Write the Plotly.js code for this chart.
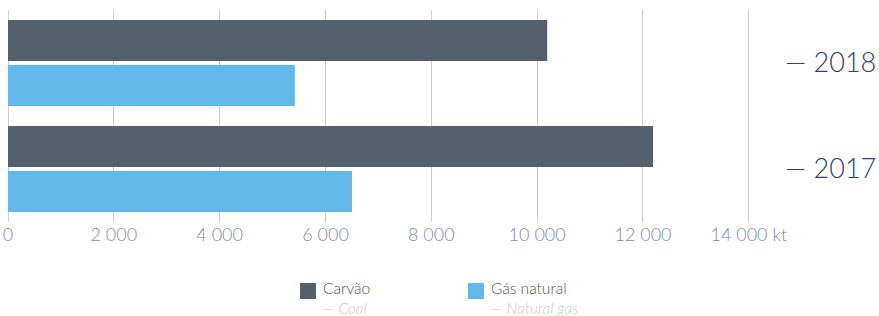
<!DOCTYPE html>
<html>
<head>
<meta charset="utf-8">
<script src="https://cdn.plot.ly/plotly-3.0.1.min.js"></script>
<style>html,body{margin:0;padding:0;background:#fff;}#chart{width:879px;height:316px;}</style>
</head>
<body>
<div id="chart"></div>
<script>
// ---- data ----
const years = ['2017', '2018'];
const yearLabels = ['— 2017', '— 2018'];
const coal = [12190, 10190];      // Carvão (kt)
const naturalGas = [6500, 5420];  // Gás natural (kt)
const seriesNames = ['Carvão', 'Gás natural'];
const seriesSubtitles = ['— Coal', '— Natural gas'];
const tickValues = [0, 2000, 4000, 6000, 8000, 10000, 12000, 14000];
const tickLabels = ['0', '2 000', '4 000', '6 000', '8 000', '10 000', '12 000', '14 000 kt'];

// ---- styles ----
const W = 879, H = 316;
const M = {l: 8, r: 127, t: 10, b: 94};
const coalColor = '#54616c';
const gasColor = '#62b8e8';
const FONT = 'Lato, "Open Sans", sans-serif';

const traces = [
  {type: 'bar', orientation: 'h', name: seriesNames[1], y: years, x: naturalGas,
   marker: {color: gasColor}, hoverinfo: 'skip', showlegend: false},
  {type: 'bar', orientation: 'h', name: seriesNames[0], y: years, x: coal,
   marker: {color: coalColor}, hoverinfo: 'skip', showlegend: false}
];

const pw = W - M.l - M.r, ph = H - M.t - M.b;
const px2x = p => (p - M.l) / pw;
const px2y = p => (H - M.b - p) / ph;

const legendItems = [
  {sq: 300, tx: 322, color: coalColor},
  {sq: 468, tx: 490, color: gasColor}
];
const shapes = [];
const annotations = [];
legendItems.forEach((it, i) => {
  shapes.push({type: 'rect', xref: 'paper', yref: 'paper',
    x0: px2x(it.sq), x1: px2x(it.sq + 16), y0: px2y(299), y1: px2y(283),
    fillcolor: it.color, line: {width: 0}});
  annotations.push({xref: 'paper', yref: 'paper', x: px2x(it.tx), y: px2y(278),
    xanchor: 'left', yanchor: 'top', align: 'left', showarrow: false, borderpad: 0,
    text: seriesNames[i] + '<br><span style="color:#c3c7cd;font-style:italic">' + seriesSubtitles[i] + '</span>',
    font: {family: FONT, size: 15.5, color: '#4c5763', weight: 300}});
});

const layout = {
  width: W, height: H,
  margin: M,
  paper_bgcolor: '#fff', plot_bgcolor: '#fff',
  barmode: 'group', bargap: 0.151, bargroupgap: 0.089,
  showlegend: false,
  font: {family: FONT},
  xaxis: {
    range: [0, 14060], tickvals: tickValues, ticktext: tickLabels,
    showgrid: true, gridcolor: '#c9cdd4', gridwidth: 1,
    zeroline: true, zerolinecolor: '#c9cdd4', zerolinewidth: 1,
    showline: false, ticks: '',
    tickfont: {family: FONT, size: 18, color: '#7f8aab', weight: 300},
    fixedrange: true
  },
  yaxis: {
    type: 'category', categoryorder: 'array', categoryarray: years,
    tickvals: years, ticktext: yearLabels,
    range: [-0.5, 1.5], side: 'right', showgrid: false, zeroline: false,
    showline: false, ticks: '', ticklabelstandoff: 32,
    tickfont: {family: FONT, size: 27, color: '#2e4275', weight: 300},
    fixedrange: true
  },
  shapes: shapes,
  annotations: annotations
};

Plotly.newPlot('chart', traces, layout, {displayModeBar: false, staticPlot: true});
</script>
</body>
</html>
